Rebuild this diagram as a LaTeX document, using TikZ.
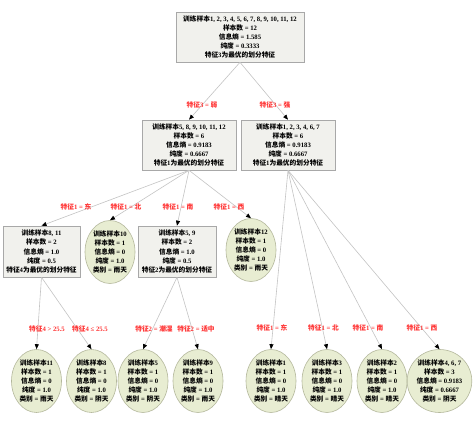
\documentclass[tikz,border=0pt]{standalone}
\usepackage{fontspec}
\setmainfont{Liberation Serif}
\newfontfamily\cjk{Noto Sans CJK SC}
\usetikzlibrary{shapes.geometric,arrows.meta}
\newcommand\C[1]{{\cjk #1}}
\newcommand\XL{\C{训练样本}}
\newcommand\YB{\C{样本数} = }
\newcommand\XX{\C{信息熵} = }
\newcommand\CD{\C{纯度} = }
\newcommand\LB{\C{类别} = }
\newcommand\TZ{\C{特征}}
\newcommand\ZY{\C{为最优的划分特征}}
\definecolor{boxfill}{HTML}{F1F1ED}
\definecolor{boxline}{HTML}{A8A8A8}
\definecolor{ellfill}{HTML}{E8EDD2}
\definecolor{ellline}{HTML}{B4B89C}
\definecolor{edgecol}{HTML}{C4C4C4}
\definecolor{labred}{HTML}{FF3333}
\tikzset{
 txt/.style={font=\fontsize{6.7}{9.2}\selectfont\bfseries, align=center},
 dbox/.style={txt, draw=boxline, fill=boxfill, rectangle, inner sep=0pt, line width=0.6pt},
 leaf/.style={txt, draw=ellline, fill=ellfill, ellipse, inner sep=0pt, minimum width=50pt, minimum height=63pt, line width=0.6pt},
 elab/.style={font=\fontsize{6.7}{8}\selectfont\bfseries, text=labred, inner sep=1pt},
 edge/.style={draw=edgecol, line width=0.6pt, -{Triangle[length=5pt,width=4pt,color=black]}},
}
\begin{document}
\begin{tikzpicture}[x=1pt,y=-1pt]
\useasboundingbox (0,0) rectangle (474,422);
\fill[white] (0,0) rectangle (474,422);
% nodes
\node[dbox, minimum width=128pt, minimum height=50pt] (root) at (240,37)
 {\XL 1, 2, 3, 4, 5, 6, 7, 8, 9, 10, 11, 12\\\YB 12\\\XX 1.585\\\CD 0.3333\\\TZ 3\ZY};
\node[dbox, minimum width=94pt, minimum height=50pt] (a) at (189,145)
 {\XL 5, 8, 9, 10, 11, 12\\\YB 6\\\XX 0.9183\\\CD 0.6667\\\TZ 1\ZY};
\node[dbox, minimum width=94pt, minimum height=50pt] (b) at (288,145)
 {\XL 1, 2, 3, 4, 6, 7\\\YB 6\\\XX 0.9183\\\CD 0.6667\\\TZ 1\ZY};
\node[dbox, minimum width=77pt, minimum height=51pt] (c) at (41.5,251.5)
 {\XL 8, 11\\\YB 2\\\XX 1.0\\\CD 0.5\\\TZ 4\ZY};
\node[leaf] (d) at (110,252)
 {\XL 10\\\YB 1\\\XX 0\\\CD 1.0\\\LB\C{雨天}};
\node[dbox, minimum width=78pt, minimum height=51pt] (e) at (177,251.5)
 {\XL 5, 9\\\YB 2\\\XX 1.0\\\CD 0.5\\\TZ 2\ZY};
\node[leaf] (f) at (251,250)
 {\XL 12\\\YB 1\\\XX 0\\\CD 1.0\\\LB\C{雨天}};
\node[leaf] (g1) at (36.5,381)
 {\XL 11\\\YB 1\\\XX 0\\\CD 1.0\\\LB\C{雨天}};
\node[leaf] (g2) at (91.5,381)
 {\XL 8\\\YB 1\\\XX 0\\\CD 1.0\\\LB\C{阴天}};
\node[leaf] (g3) at (143,381)
 {\XL 5\\\YB 1\\\XX 0\\\CD 1.0\\\LB\C{阴天}};
\node[leaf] (g4) at (198,381)
 {\XL 9\\\YB 1\\\XX 0\\\CD 1.0\\\LB\C{雨天}};
\node[leaf] (h1) at (271,381)
 {\XL 1\\\YB 1\\\XX 0\\\CD 1.0\\\LB\C{晴天}};
\node[leaf] (h2) at (327,381)
 {\XL 3\\\YB 1\\\XX 0\\\CD 1.0\\\LB\C{晴天}};
\node[leaf] (h3) at (382,381)
 {\XL 2\\\YB 1\\\XX 0\\\CD 1.0\\\LB\C{晴天}};
\node[leaf, minimum width=55pt] (h4) at (439.5,381)
 {\XL 4, 6, 7\\\YB 3\\\XX 0.9183\\\CD 0.6667\\\LB\C{阴天}};
% edges
\draw[edge] (root.south) -- (a.north);
\draw[edge] (root.south) -- (b.north);
\draw[edge] (a.south) -- (c.north);
\draw[edge] (a.south) -- (d.north);
\draw[edge] (a.south) -- (e.north);
\draw[edge] (a.south) -- (f.north);
\draw[edge] (c.south) -- (g1.north);
\draw[edge] (c.south) -- (g2.north);
\draw[edge] (e.south) -- (g3.north);
\draw[edge] (e.south) -- (g4.north);
\draw[edge] (b.south) -- (h1.north);
\draw[edge] (b.south) -- (h2.north);
\draw[edge] (b.south) -- (h3.north);
\draw[edge] (b.south) -- (h4.north);
% edge labels
\node[elab] (l1) at (202,105) {\TZ 3 = \C{弱}};
\node[elab] (l2) at (275,105) {\TZ 3 = \C{强}};
\node[elab] (l3) at (76,207) {\TZ 1 = \C{东}};
\node[elab] (l4) at (126,207) {\TZ 1 = \C{北}};
\node[elab] (l5) at (178,207) {\TZ 1 = \C{南}};
\node[elab] (l6) at (229,207) {\TZ 1 = \C{西}};
\node[elab] (l7) at (47,329) {\TZ 4 > 25.5};
\node[elab] (l8) at (90,329) {\TZ 4 ≤ 25.5};
\node[elab] (l9) at (154,329) {\TZ 2 = \C{潮湿}};
\node[elab] (l10) at (196,329) {\TZ 2 = \C{适中}};
\node[elab] (l11) at (272,328) {\TZ 1 = \C{东}};
\node[elab] (l12) at (323.5,328) {\TZ 1 = \C{北}};
\node[elab] (l13) at (368,328) {\TZ 1 = \C{南}};
\node[elab] (l14) at (422,328) {\TZ 1 = \C{西}};
\end{tikzpicture}
\end{document}
